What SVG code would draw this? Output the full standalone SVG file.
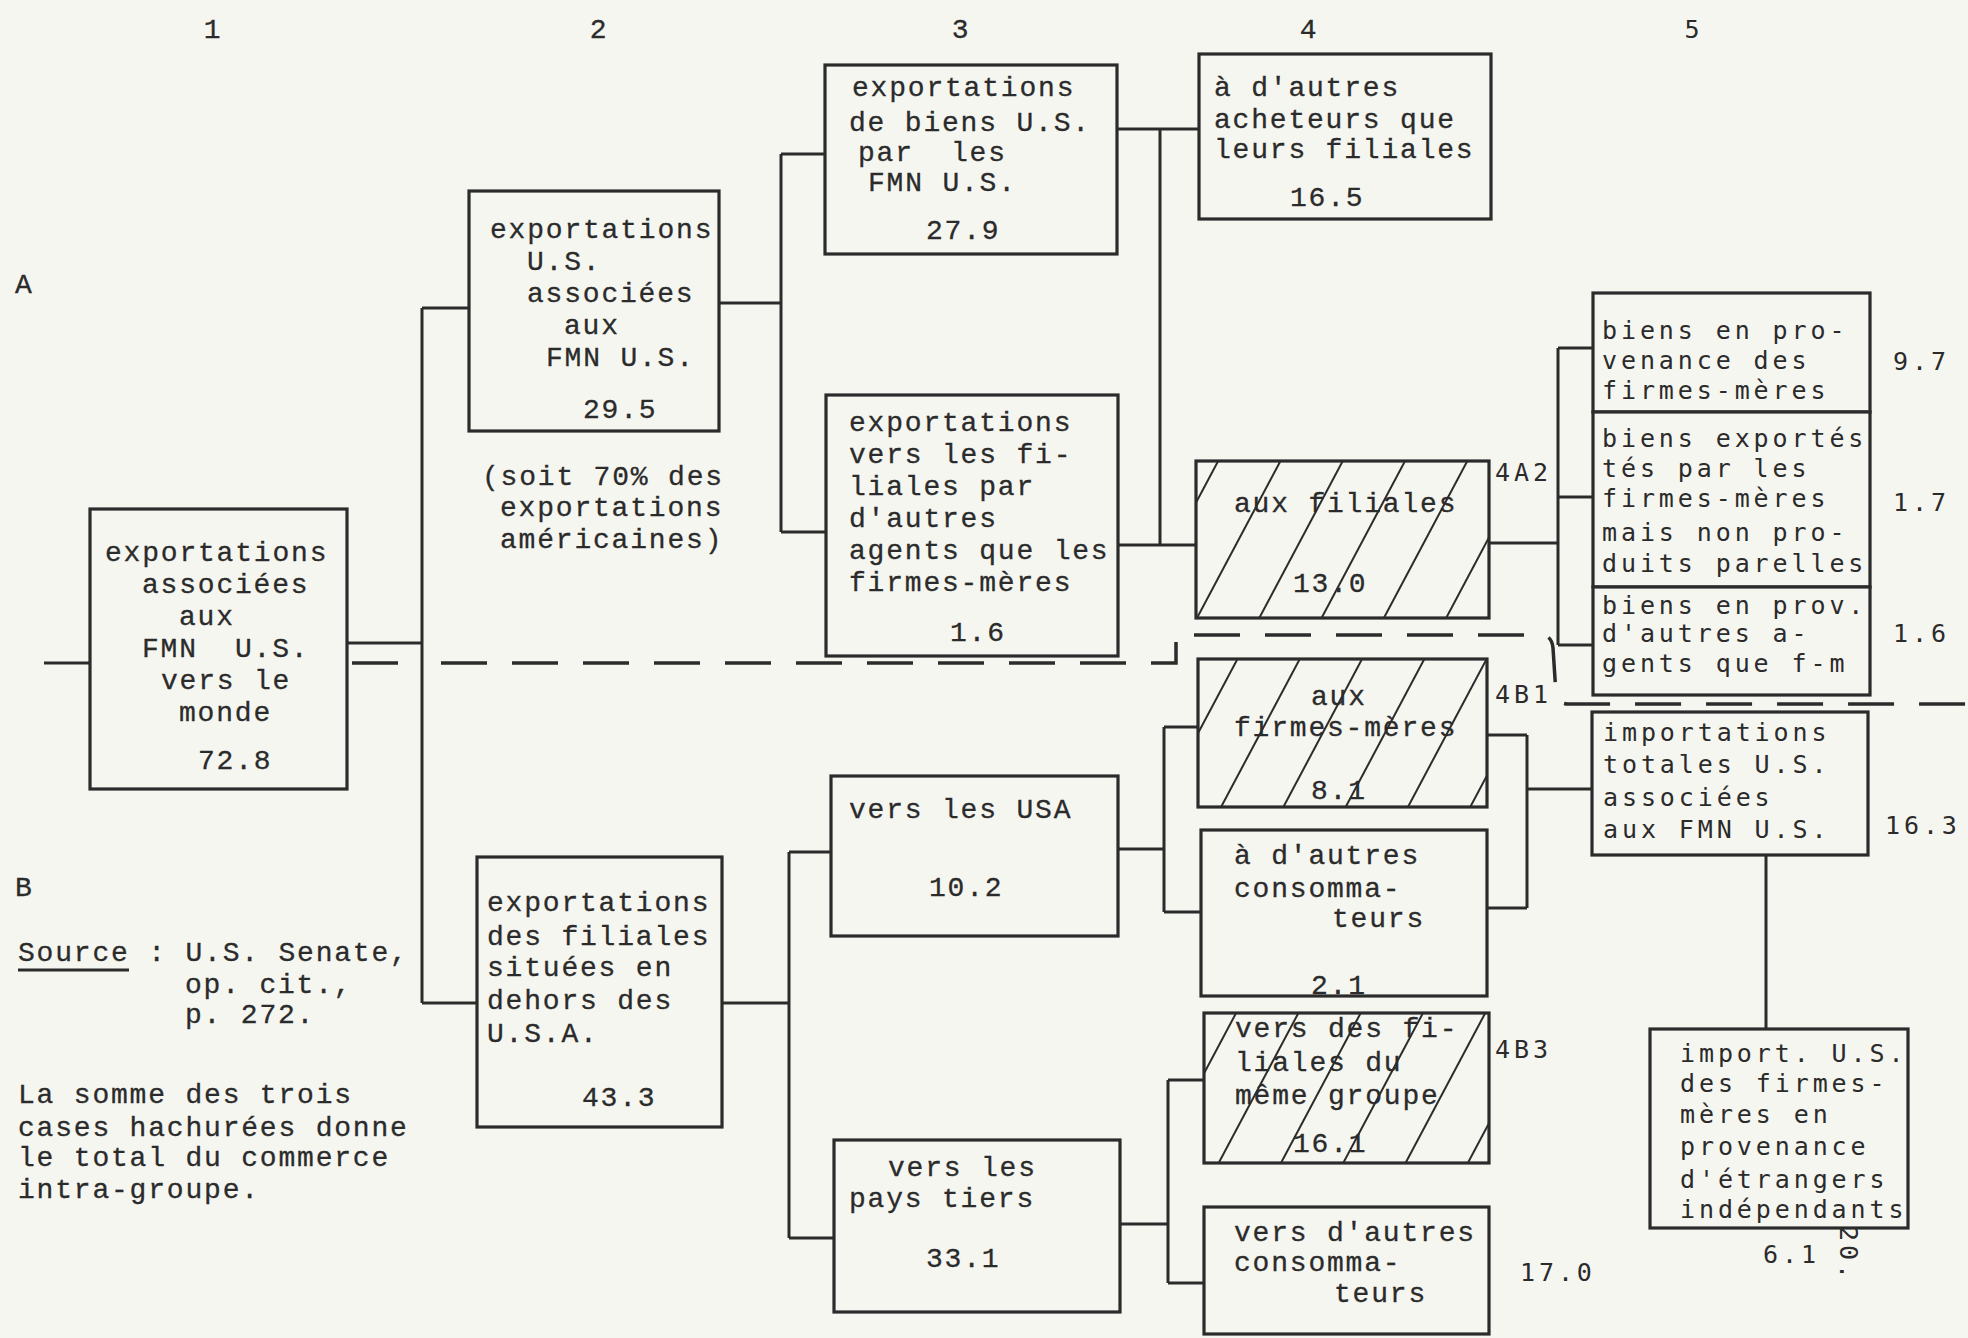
<svg xmlns="http://www.w3.org/2000/svg" width="1968" height="1338" viewBox="0 0 1968 1338">
<defs>
<style>
.bg{fill:#f6f6f1}
.box{fill:#f6f6f1;stroke:#2b2b2b;stroke-width:3.2}
.hatch{fill:url(#hatch);stroke:none}
.ln{fill:none;stroke:#2b2b2b;stroke-width:3}
.dash{fill:none;stroke:#2b2b2b;stroke-width:3.5;stroke-dasharray:46 25}
.t{font-family:"Liberation Mono","Courier New",monospace;font-size:28px;letter-spacing:1.8px;fill:#2b2b2b;stroke:#2b2b2b;stroke-width:0.3}
.s{font-family:"DejaVu Sans Mono","Liberation Mono",monospace;font-size:25px;letter-spacing:3.9px;fill:#2b2b2b}
</style>
<pattern id="hatch" patternUnits="userSpaceOnUse" width="55" height="55" patternTransform="rotate(28)">
<line x1="27" y1="-2" x2="27" y2="57" stroke="#2b2b2b" stroke-width="2"/>
</pattern>
</defs>
<rect class="bg" x="0" y="0" width="1968" height="1338"/>

<g id="labels">
<text class="t" x="213" y="38" text-anchor="middle">1</text>
<text class="t" x="599" y="38" text-anchor="middle">2</text>
<text class="t" x="961" y="38" text-anchor="middle">3</text>
<text class="t" x="1309" y="38" text-anchor="middle">4</text>
<text class="s" x="1694" y="38" text-anchor="middle">5</text>
<text class="t" x="15" y="293">A</text>
<text class="t" x="15" y="896">B</text>
<text class="t" x="482" y="485">(soit 70% des</text>
<text class="t" x="500" y="516">exportations</text>
<text class="t" x="500" y="548">américaines)</text>
<text class="t" x="18" y="961">Source : U.S. Senate,</text>
<line class="ln" x1="18" y1="970" x2="129" y2="970"/>
<text class="t" x="185" y="993">op. cit.,</text>
<text class="t" x="185" y="1023">p. 272.</text>
<text class="t" x="18" y="1103">La somme des trois</text>
<text class="t" x="18" y="1136">cases hachurées donne</text>
<text class="t" x="18" y="1166">le total du commerce</text>
<text class="t" x="18" y="1198">intra-groupe.</text>
<text class="s" x="1495" y="481">4A2</text>
<text class="s" x="1495" y="703">4B1</text>
<text class="s" x="1495" y="1058">4B3</text>
<text class="s" x="1893" y="370">9.7</text>
<text class="s" x="1893" y="511">1.7</text>
<text class="s" x="1893" y="642">1.6</text>
<text class="s" x="1885" y="834">16.3</text>
<text class="s" x="1520" y="1281">17.0</text>
<text class="s" x="1763" y="1263">6.1</text>
<text class="s" x="1840" y="1226" transform="rotate(90 1840 1226)">20.</text>
</g>

<g id="connectors">
<line class="ln" x1="44" y1="663" x2="90" y2="663"/>
<line class="dash" x1="352" y1="663" x2="398" y2="663"/>
<path class="dash" d="M441 663 H1176 V635 H1542 Q1552 636 1553 648 L1556 694 Q1558 704 1568 704 H1968"/>
<path class="ln" d="M347 643 H422 M422 308 V1003 M422 308 H469 M422 1003 H477"/>
<path class="ln" d="M719 303 H781 M781 154 V532 M781 154 H825 M781 532 H826"/>
<path class="ln" d="M1117 129 H1199 M1160 129 V545 M1118 545 H1196"/>
<path class="ln" d="M1489 543 H1558 M1558 348 V645 M1558 348 H1593 M1558 497 H1593 M1558 645 H1593"/>
<path class="ln" d="M722 1003 H789 M789 852 V1238 M789 852 H831 M789 1238 H834"/>
<path class="ln" d="M1118 849 H1164 M1164 727 V912 M1164 727 H1198 M1164 912 H1201"/>
<path class="ln" d="M1120 1224 H1168 M1168 1080 V1283 M1168 1080 H1204 M1168 1283 H1204"/>
<path class="ln" d="M1487 735 H1527 M1527 735 V908 M1487 908 H1527 M1527 789 H1592"/>
<path class="ln" d="M1766 855 V1029"/>
</g>

<g id="n1">
<rect class="box" x="90" y="509" width="257" height="280"/>
<text class="t" x="105" y="561">exportations</text>
<text class="t" x="142" y="593">associées</text>
<text class="t" x="179" y="625">aux</text>
<text class="t" x="142" y="657">FMN&#160;&#160;U.S.</text>
<text class="t" x="161" y="689">vers le</text>
<text class="t" x="179" y="721">monde</text>
<text class="t" x="198" y="769">72.8</text>
</g>

<g id="n2A">
<rect class="box" x="469" y="191" width="250" height="240"/>
<text class="t" x="490" y="238">exportations</text>
<text class="t" x="527" y="270">U.S.</text>
<text class="t" x="527" y="302">associées</text>
<text class="t" x="564" y="334">aux</text>
<text class="t" x="546" y="366">FMN U.S.</text>
<text class="t" x="583" y="418">29.5</text>
</g>

<g id="n2B">
<rect class="box" x="477" y="857" width="245" height="270"/>
<text class="t" x="487" y="911">exportations</text>
<text class="t" x="487" y="945">des filiales</text>
<text class="t" x="487" y="976">situées en</text>
<text class="t" x="487" y="1009">dehors des</text>
<text class="t" x="487" y="1042">U.S.A.</text>
<text class="t" x="582" y="1106">43.3</text>
</g>

<g id="n3A1">
<rect class="box" x="825" y="65" width="292" height="189"/>
<text class="t" x="852" y="96">exportations</text>
<text class="t" x="849" y="131">de biens U.S.</text>
<text class="t" x="858" y="161">par&#160;&#160;les</text>
<text class="t" x="868" y="191">FMN U.S.</text>
<text class="t" x="926" y="239">27.9</text>
</g>

<g id="n3A2">
<rect class="box" x="826" y="395" width="292" height="261"/>
<text class="t" x="849" y="431">exportations</text>
<text class="t" x="849" y="463">vers les fi-</text>
<text class="t" x="849" y="495">liales par</text>
<text class="t" x="849" y="527">d'autres</text>
<text class="t" x="849" y="559">agents que les</text>
<text class="t" x="849" y="591">firmes-mères</text>
<text class="t" x="950" y="641">1.6</text>
</g>

<g id="n3B1">
<rect class="box" x="831" y="776" width="287" height="160"/>
<text class="t" x="849" y="818">vers les USA</text>
<text class="t" x="929" y="896">10.2</text>
</g>

<g id="n3B2">
<rect class="box" x="834" y="1140" width="286" height="172"/>
<text class="t" x="888" y="1176">vers les</text>
<text class="t" x="849" y="1207">pays tiers</text>
<text class="t" x="926" y="1267">33.1</text>
</g>

<g id="n4A1">
<rect class="box" x="1199" y="54" width="292" height="165"/>
<text class="t" x="1214" y="96">à d'autres</text>
<text class="t" x="1214" y="128">acheteurs que</text>
<text class="t" x="1214" y="158">leurs filiales</text>
<text class="t" x="1290" y="206">16.5</text>
</g>

<g id="n4A2">
<rect class="box" x="1196" y="461" width="293" height="157"/>
<text class="t" x="1234" y="512">aux filiales</text>
<text class="t" x="1293" y="592">13.0</text>
<rect class="hatch" x="1196" y="461" width="293" height="157"/>
</g>

<g id="n4B1">
<rect class="box" x="1198" y="659" width="289" height="148"/>
<text class="t" x="1311" y="705">aux</text>
<text class="t" x="1234" y="736">firmes-mères</text>
<text class="t" x="1311" y="799">8.1</text>
<rect class="hatch" x="1198" y="659" width="289" height="148"/>
</g>

<g id="n4B2">
<rect class="box" x="1201" y="830" width="286" height="166"/>
<text class="t" x="1234" y="864">à d'autres</text>
<text class="t" x="1234" y="897">consomma-</text>
<text class="t" x="1332" y="927">teurs</text>
<text class="t" x="1311" y="994">2.1</text>
</g>

<g id="n4B3">
<rect class="box" x="1204" y="1013" width="285" height="150"/>
<text class="t" x="1235" y="1037">vers des fi-</text>
<text class="t" x="1235" y="1071">liales du</text>
<text class="t" x="1235" y="1104">même groupe</text>
<text class="t" x="1293" y="1152">16.1</text>
<rect class="hatch" x="1204" y="1013" width="285" height="150"/>
</g>

<g id="n4B4">
<rect class="box" x="1204" y="1207" width="285" height="127"/>
<text class="t" x="1234" y="1241">vers d'autres</text>
<text class="t" x="1234" y="1271">consomma-</text>
<text class="t" x="1334" y="1302">teurs</text>
</g>

<g id="n5A1">
<rect class="box" x="1593" y="293" width="277" height="119"/>
<text class="s" x="1602" y="339">biens en pro-</text>
<text class="s" x="1602" y="369">venance des</text>
<text class="s" x="1602" y="399">firmes-mères</text>
</g>

<g id="n5A2">
<rect class="box" x="1593" y="412" width="277" height="175"/>
<text class="s" x="1602" y="447">biens exportés</text>
<text class="s" x="1602" y="477">tés par les</text>
<text class="s" x="1602" y="507">firmes-mères</text>
<text class="s" x="1602" y="541">mais non pro-</text>
<text class="s" x="1602" y="572">duits parelles</text>
</g>

<g id="n5A3">
<rect class="box" x="1593" y="587" width="277" height="108"/>
<text class="s" x="1602" y="614">biens en prov.</text>
<text class="s" x="1602" y="642">d'autres a-</text>
<text class="s" x="1602" y="672">gents que f-m</text>
</g>

<g id="n5B">
<rect class="box" x="1592" y="712" width="276" height="143"/>
<text class="s" x="1603" y="741">importations</text>
<text class="s" x="1603" y="773">totales U.S.</text>
<text class="s" x="1603" y="806">associées</text>
<text class="s" x="1603" y="838">aux FMN U.S.</text>
</g>

<g id="n5C">
<rect class="box" x="1650" y="1029" width="258" height="199"/>
<text class="s" x="1680" y="1062">import. U.S.</text>
<text class="s" x="1680" y="1092">des firmes-</text>
<text class="s" x="1680" y="1123">mères en</text>
<text class="s" x="1680" y="1155">provenance</text>
<text class="s" x="1680" y="1188">d'étrangers</text>
<text class="s" x="1680" y="1218">indépendants</text>
</g>
</svg>
